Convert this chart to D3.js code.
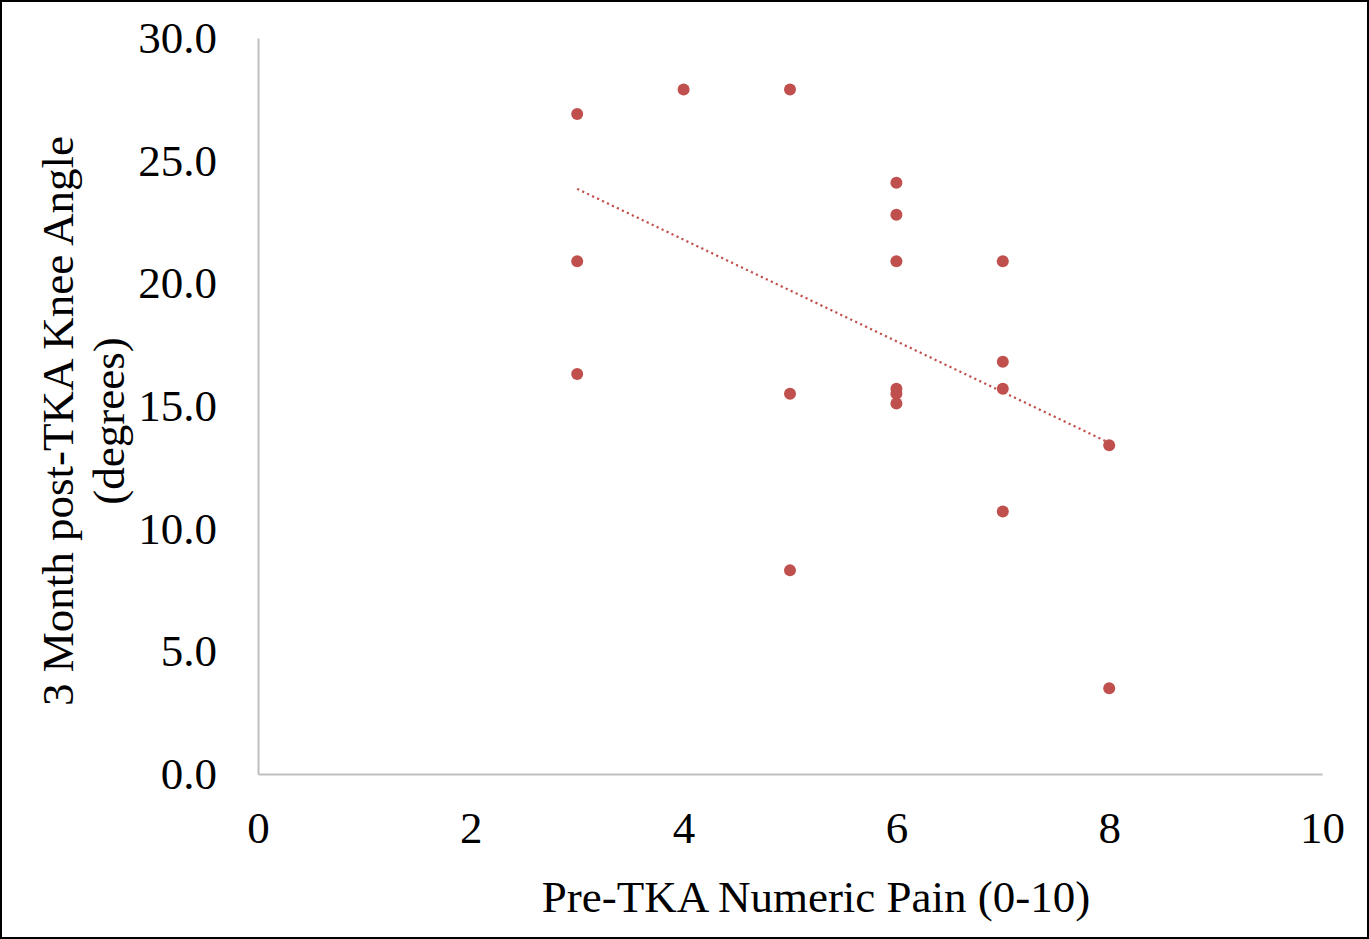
<!DOCTYPE html>
<html>
<head>
<meta charset="utf-8">
<script src="https://cdn.jsdelivr.net/npm/d3@7"></script>
<style>
  html, body { margin: 0; padding: 0; background: #fff; }
  svg { display: block; }
</style>
</head>
<body>
<svg id="chart" width="1369" height="939"></svg>
<script>
const painX = [3, 3, 3, 4, 5, 5, 5, 6, 6, 6, 6, 6, 6, 7, 7, 7, 7, 8, 8];
const kneeAngle = [26.9, 20.9, 16.3, 27.9, 27.9, 15.5, 8.3, 24.1, 22.8, 20.9, 15.7, 15.5, 15.1, 20.9, 16.8, 15.7, 10.7, 13.4, 3.5];
const trendX = [3, 8];
const trendY = [23.85, 13.5];
const xTicks = [0, 2, 4, 6, 8, 10];
const yTicks = [0, 5, 10, 15, 20, 25, 30];
const xTitle = "Pre-TKA Numeric Pain (0-10)";
const yTitleLines = ["3 Month post-TKA Knee Angle", "(degrees)"];

const W = 1369, H = 939;
const svg = d3.select("#chart");
const font = "'Liberation Serif', 'Times New Roman', serif";
const fs = 45;
const color = "#C0504D";

svg.append("rect").attr("x", 1).attr("y", 1).attr("width", W - 2).attr("height", H - 2)
  .attr("fill", "#fff").attr("stroke", "#000").attr("stroke-width", 2);

const x = d3.scaleLinear().domain([0, 10]).range([258, 1322]);
const y = d3.scaleLinear().domain([0, 30]).range([774, 38]);

// axes
const xAxis = svg.append("g").attr("transform", `translate(0,${y(0)})`)
  .call(d3.axisBottom(x).tickValues(xTicks).tickSize(0).tickPadding(37).tickFormat(d3.format("d")));
const yAxis = svg.append("g").attr("transform", `translate(${x(0)},0)`)
  .call(d3.axisLeft(y).tickValues(yTicks).tickSize(0).tickPadding(41).tickFormat(d3.format(".1f")));
[xAxis, yAxis].forEach(g => {
  g.select(".domain").attr("stroke", "#BFBFBF").attr("stroke-width", 2);
  g.selectAll("text").attr("font-family", font).attr("font-size", fs).attr("fill", "#000");
});

// trendline
svg.append("path")
  .datum(trendX.map((d, i) => [d, trendY[i]]))
  .attr("d", d3.line().x(d => x(d[0])).y(d => y(d[1])))
  .attr("fill", "none").attr("stroke", color).attr("stroke-width", 2.2)
  .attr("stroke-dasharray", "2.2,3.3");

// points
svg.append("g").selectAll("circle")
  .data(painX.map((d, i) => [d, kneeAngle[i]]))
  .join("circle")
  .attr("cx", d => x(d[0])).attr("cy", d => y(d[1])).attr("r", 6)
  .attr("fill", color);

// titles
svg.append("text").attr("x", 816).attr("y", 912).attr("text-anchor", "middle")
  .attr("font-family", font).attr("font-size", fs).attr("fill", "#000").text(xTitle);

const yt = svg.append("text").attr("transform", "translate(0,421) rotate(-90)")
  .attr("text-anchor", "middle").attr("font-family", font).attr("font-size", fs).attr("fill", "#000");
yt.append("tspan").attr("x", 0).attr("y", 73).text(yTitleLines[0]);
yt.append("tspan").attr("x", 0).attr("y", 124).text(yTitleLines[1]);
</script>
</body>
</html>
